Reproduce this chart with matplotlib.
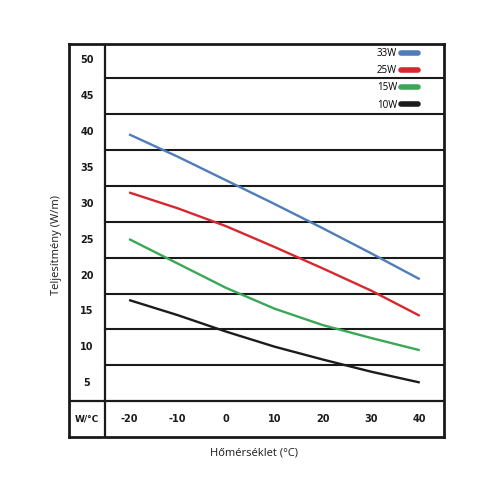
import numpy as np
from matplotlib import pyplot as plt
from matplotlib.lines import Line2D

# temperature (C) and output (W/m)
temps = [-20, -10, 0, 10, 20, 30, 40]
w33 = [39.7, 36.6, 33.3, 30.0, 26.6, 23.1, 19.5]
w25 = [31.6, 29.4, 26.9, 24.0, 21.0, 17.9, 14.4]
w15 = [25.1, 21.7, 18.3, 15.4, 13.1, 11.3, 9.6]
w10 = [16.6, 14.5, 12.2, 10.1, 8.3, 6.6, 5.1]

series_names = ['33W', '25W', '15W', '10W']
series_colors = ['#4f7db8', '#d7282f', '#3aa757', '#1c1c1c']

y_ticks = [5, 10, 15, 20, 25, 30, 35, 40, 45, 50]
x_ticks = [-20, -10, 0, 10, 20, 30, 40]
corner_label = 'W/°C'

fig = plt.figure(figsize=(5, 5), dpi=100)
ax = fig.add_axes([0.138, 0.126, 0.75, 0.786])
ax.set_xlim(-32.4, 45)
ax.set_ylim(-2.5, 52.3)
ax.set_xticks([])
ax.set_yticks([])
for sp in ax.spines.values():
    sp.set_linewidth(2.0)
    sp.set_color('#1a1a1a')

# table-like grid
label_col = -28.66
divider_x = -25
for yv in y_ticks:
    ax.plot([divider_x, 45], [yv + 2.5, yv + 2.5], color='#1a1a1a', lw=1.5, zorder=1)
ax.plot([-32.4, 45], [2.5, 2.5], color='#1a1a1a', lw=1.6, zorder=1)
ax.plot([divider_x, divider_x], [-2.5, 52.3], color='#1a1a1a', lw=1.6, zorder=1)

tick_font = dict(fontsize=7.0, fontweight='bold', family='DejaVu Sans', color='#1a1a1a',
                 ha='center', va='center')
for yv in y_ticks:
    ax.text(label_col, yv, str(yv), **tick_font)
for xv in x_ticks:
    ax.text(xv, 0, str(xv), **tick_font)
ax.text(label_col, 0, corner_label, fontsize=6.5, fontweight='bold', family='DejaVu Sans',
        color='#1a1a1a', ha='center', va='center')

for vals, c in zip([w33, w25, w15, w10], series_colors):
    ax.plot(temps, vals, color=c, lw=1.7, zorder=3, solid_capstyle='butt')

handles = [Line2D([0], [0], color=c, lw=4.0, solid_capstyle='round') for c in series_colors]
leg = ax.legend(handles, series_names, loc='upper right', bbox_to_anchor=(418 / 500, 1 - 48 / 500),
                bbox_transform=fig.transFigure, frameon=False, markerfirst=False,
                prop={'family': 'Open Sans', 'size': 7}, handlelength=1.8, handletextpad=0.35,
                labelspacing=0.64, borderpad=0, borderaxespad=0)

fig.text(56 / 500, 1 - 245 / 500, 'Teljesítmény (W/m)', rotation=90, ha='center', va='center',
         family='Open Sans', fontsize=8, color='#1a1a1a')
fig.text(254 / 500, 1 - 453 / 500, 'Hőmérséklet (°C)', ha='center', va='center',
         family='Open Sans', fontsize=8, color='#1a1a1a')

fig.savefig('out.png', dpi=100)
